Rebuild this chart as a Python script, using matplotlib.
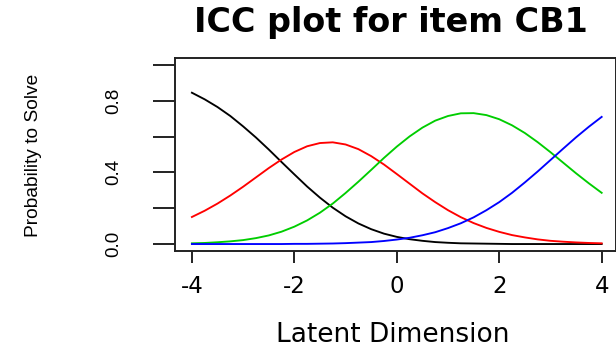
import matplotlib
matplotlib.use("Agg")
import matplotlib.pyplot as plt
from matplotlib import font_manager as fm

# latent dimension grid and category probabilities
theta = [-4.0, -3.75, -3.5, -3.25, -3.0, -2.75, -2.5, -2.25, -2.0, -1.75, -1.5,
         -1.25, -1.0, -0.75, -0.5, -0.25, 0.0, 0.25, 0.5, 0.75, 1.0, 1.25, 1.5,
         1.75, 2.0, 2.25, 2.5, 2.75, 3.0, 3.25, 3.5, 3.75, 4.0]

cat0 = [0.845, 0.808, 0.765, 0.715, 0.657, 0.595, 0.528, 0.458, 0.389, 0.321, 0.259,
        0.203, 0.155, 0.115, 0.083, 0.058, 0.040, 0.027, 0.018, 0.011, 0.007, 0.004,
        0.003, 0.002, 0.001, 0.000, 0.000, 0.000, 0.000, 0.000, 0.000, 0.000, 0.000]
cat1 = [0.151, 0.186, 0.226, 0.271, 0.320, 0.372, 0.424, 0.472, 0.514, 0.546, 0.564,
        0.568, 0.556, 0.530, 0.491, 0.444, 0.391, 0.337, 0.283, 0.234, 0.189, 0.150,
        0.117, 0.090, 0.068, 0.050, 0.037, 0.026, 0.018, 0.013, 0.009, 0.006, 0.004]
cat2 = [0.004, 0.006, 0.010, 0.015, 0.022, 0.033, 0.048, 0.069, 0.097, 0.132, 0.175,
        0.226, 0.285, 0.348, 0.414, 0.481, 0.544, 0.601, 0.650, 0.689, 0.715, 0.730,
        0.731, 0.720, 0.697, 0.663, 0.620, 0.569, 0.513, 0.454, 0.395, 0.339, 0.286]
cat3 = [0.000, 0.000, 0.000, 0.000, 0.000, 0.000, 0.000, 0.000, 0.001, 0.001, 0.002,
        0.003, 0.005, 0.008, 0.011, 0.017, 0.025, 0.035, 0.049, 0.066, 0.089, 0.116,
        0.149, 0.189, 0.234, 0.286, 0.344, 0.405, 0.469, 0.533, 0.596, 0.655, 0.710]

series = [cat0, cat1, cat2, cat3]
colors = ["black", "#FF0000", "#00CD00", "#0000FF"]

xticks = [-4, -2, 0, 2, 4]
xtick_labels = ["-4", "-2", "0", "2", "4"]
yticks = [0.0, 0.2, 0.4, 0.6, 0.8, 1.0]
ytick_labels = ["0.0", "", "0.4", "", "0.8", ""]

title = "ICC plot for item CB1"
xlabel = "Latent Dimension"
ylabel = "Probability to Solve"

# narrow face for the rotated texts if present
installed = {f.name for f in fm.fontManager.ttflist}
if "Liberation Sans Narrow" in installed:
    rot_family, ylab_size, ytick_size = "Liberation Sans Narrow", 16.5, 15.5
else:
    rot_family, ylab_size, ytick_size = "Liberation Sans", 13.8, 13.5

W, H = 616, 350
fig = plt.figure(figsize=(W / 100, H / 100), dpi=100)
ax = fig.add_axes([175 / W, 1 - 251.2 / H, (615.5 - 175) / W, (251.2 - 57.8) / H])

for vals, c in zip(series, colors):
    ax.plot(theta, vals, color=c, lw=1.35)

ax.set_xlim(-4.33, 4.27)
ax.set_ylim(-0.04, 1.04)

for s in ax.spines.values():
    s.set_linewidth(1.4)
    s.set_color("#222222")

ax.set_xticks(xticks)
ax.set_xticklabels(xtick_labels, family="DejaVu Sans", fontsize=16.5)
ax.set_yticks(yticks)
ax.set_yticklabels(ytick_labels, family=rot_family, fontsize=ytick_size,
                   rotation=90, va="center")
ax.tick_params(axis="x", length=8.6, width=1.4, pad=8.5, color="#222222")
ax.tick_params(axis="y", length=15.8, width=1.4, pad=22, color="#222222")

fig.text(391 / W, 1 - 31.7 / H, title, ha="center", va="baseline",
         family="DejaVu Sans", fontweight="bold", fontsize=24)
fig.text(393 / W, 1 - 341.7 / H, xlabel, ha="center", va="baseline",
         family="DejaVu Sans", fontsize=19)
fig.text(38 / W, 1 - 155.5 / H, ylabel, ha="center", va="baseline",
         rotation=90, rotation_mode="anchor", family=rot_family, fontsize=ylab_size)

fig.savefig("out.png", dpi=100)
